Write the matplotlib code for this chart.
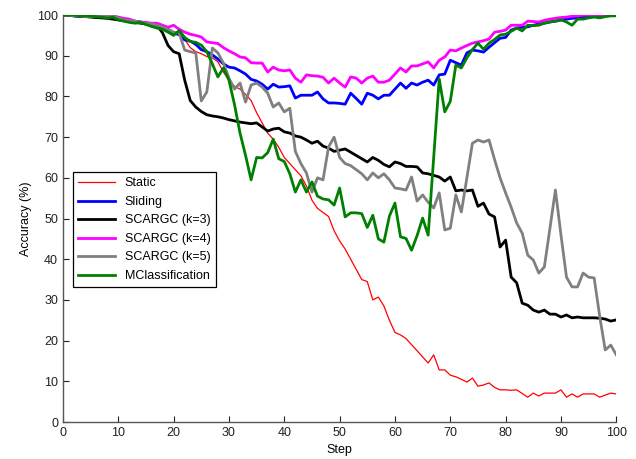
import matplotlib
matplotlib.use("Agg")
import matplotlib.pyplot as plt
import numpy as np

steps = list(range(0, 101))

static = [100,100,99.8,99.8,99.7,99.5,99.5,99.3,99.5,99,98.8,98.5,98.3,98.3,98,97.8,97.5,97.5,97,96.5,
          95.5,95,94,92,91,90.5,89.8,89.5,88.5,86,84,82.5,81.8,80.5,79,76,73.5,71,69.5,67.5,
          65,63.5,62,60.5,58,54.5,52.5,51.5,50.5,47,44.5,42.5,40,37.5,35,34.5,30,30.7,28.5,25,
          22,21.4,20.5,19,17.5,16,14.5,16.5,12.8,12.8,11.5,11.1,10.5,9.8,10.8,8.8,9.1,9.6,8.5,7.9,
          7.9,7.8,7.9,7,6.1,7.1,6.4,7.1,7.1,7.1,7.9,6.1,6.9,6.1,6.9,6.9,6.9,6.1,6.6,7.1,6.9]

sliding = [100,100,99.8,99.7,99.7,99.6,99.5,99.5,99.3,99.2,99,98.8,98.6,98.5,98.3,98,97.8,97.5,97,96.5,
           95.6,95.2,93.9,93.6,92.8,91.5,91,90.2,89.2,88,87.2,87,86.3,85.5,84.2,83.8,83,81.8,83,82.3,
           82.4,82.6,79.6,80.3,80.3,80.3,81.1,79.4,78.4,78.4,78.3,78.1,80.8,79.5,78.1,80.8,80.3,79.4,80.3,80.3,
           81.8,83.3,82,83.3,82.8,83.5,84,82.8,85.3,85.5,88.9,88.3,87.7,90.7,91.4,91.2,90.9,92.1,93.2,94.3,
           94.5,96.3,96.8,97,97.1,97.5,97.8,98,98.3,98.5,98.8,99,99.2,99.3,99.5,99.6,99.7,99.8,99.9,100,100]

scargc3 = [100,100,99.8,99.7,99.7,99.5,99.4,99.3,99.2,99,98.8,98.6,98.4,98.2,98,97.8,97.6,97.5,95.6,92.5,
           91,90.5,84,79,77.4,76.3,75.5,75.2,75,74.7,74.3,74,73.7,73.5,73.3,73.5,72.5,71.5,72,72.2,
           71.3,71,70.3,70,69.3,68.5,69,67.8,67.3,66.5,66.8,67.1,66.3,65.5,64.7,63.9,65,64.3,63.3,62.7,
           63.9,63.5,62.8,62.8,62.7,61.2,61,60.6,60.2,59.2,60.2,56.8,57,56.8,57,53,53.8,51.1,50.4,43,
           44.7,35.6,34.2,29.2,28.7,27.5,27,27.5,26.5,26.5,25.8,26.3,25.6,25.8,25.6,25.6,25.6,25.5,25.3,24.8,25.1]

scargc4 = [100,100,100,100,100,100,100,100,100,99.8,99.5,99.2,99,98.5,98.3,98.2,98,98,97.5,97,
           97.5,96.5,95.8,95.3,95,94.6,93.4,93.2,93,92,91.2,90.5,89.7,89.5,88.3,88.2,88.2,86,87.2,86.5,
           86.3,86.5,84.5,83.5,85.3,85.1,85,84.7,83.3,84.5,83.3,82.3,84.8,84.5,83.3,84.5,85,83.5,83.5,84,
           85.5,87,86,87.5,87.5,88,88.5,87,88.9,89.7,91.4,91.2,91.9,92.5,93.1,93.4,93.7,94.1,95.8,96,
           96.3,97.5,97.5,97.5,98.5,98.4,98.3,98.7,99,99.2,99.4,99.5,99.7,99.8,100,100,100,100,100,100,100]

scargc5 = [100,100,99.8,99.8,99.6,99.5,99.8,99.8,100,99.8,99.3,98.8,98.6,98.5,98.2,98,97.8,97.5,97,96.5,
           95.8,95.6,91.4,91,90.7,78.9,81.1,91.9,90.7,88.2,84.5,81.8,83.3,78.6,82.8,83.3,82.3,80.8,77.4,78.4,
           76.2,77.1,66.5,63.5,61.2,56.5,60,59.5,67.6,70,65,63.5,63,62,61,59.5,61.2,60,61,59.5,
           57.5,57.3,57,60.2,54.3,55.8,54,52.6,56.3,47.2,47.6,55.8,51.6,60,68.5,69.3,68.8,69.3,64.5,60,
           56.3,52.8,48.9,46.4,41,39.8,36.6,38.1,47.5,57,46,35.6,33.2,33.2,36.6,35.6,35.4,26,17.7,18.9,16.5]

mclass = [100,100,100,99.8,99.8,99.7,99.6,99.5,99.2,99.5,98.8,98.5,98.2,98,98.2,97.7,97.2,96.8,96.5,95.8,
          95,96.2,94.5,93.5,93.3,92.6,91,88,84.8,87,84,78,71,65.5,59.5,65,64.9,66.2,69.5,64.7,
          64,61,56.5,59.5,56.5,59,55.5,54.8,54.6,53.3,57.5,50.4,51.4,51.4,51.2,47.8,50.8,45,44.2,50.6,
          53.8,45.5,45.1,42.2,45.8,50.1,45.9,65,84.3,76.2,78.8,87.7,87,89.5,91.5,93.1,91.6,93.1,94,95.1,
          95.3,96,96.8,96.1,97.5,97.4,97.5,98,98.3,98.5,98.8,98.3,97.5,99,99,99.3,99.5,99.3,99.6,99.8,99.8]

series = [
    ("Static", static, "#ff0000", 0.9),
    ("Sliding", sliding, "#0000ff", 2.0),
    ("SCARGC (k=3)", scargc3, "#000000", 2.0),
    ("SCARGC (k=4)", scargc4, "#ff00ff", 2.0),
    ("SCARGC (k=5)", scargc5, "#808080", 2.0),
    ("MClassification", mclass, "#008000", 2.0),
]

FS = 9.0
plt.rcParams['font.family'] = ['Liberation Sans', 'DejaVu Sans']
plt.rcParams['font.size'] = FS

fig = plt.figure(figsize=(6.36, 4.59), dpi=100)
ax = fig.add_axes([0.099, 0.0806, 0.870, 0.8866])

for name, vals, col, lw in series:
    ax.plot(steps, vals, color=col, linewidth=lw, label=name)

ax.set_xlim(0, 100)
ax.set_ylim(0, 100)
ax.set_xticks(np.arange(0, 101, 10))
ax.set_yticks(np.arange(0, 101, 10))
ax.spines['top'].set_visible(False)
ax.spines['right'].set_visible(False)
for sp in ('left', 'bottom'):
    ax.spines[sp].set_color('#555555')
    ax.spines[sp].set_linewidth(1.0)
ax.tick_params(direction='in', length=4, width=0.8, colors='#222222', labelsize=FS)
ax.set_xlabel("Step", fontsize=FS, labelpad=4)
ax.set_ylabel("Accuracy (%)", fontsize=FS, labelpad=4)

leg = ax.legend(loc='lower left', bbox_to_anchor=(0.018, 0.332), fancybox=False,
                edgecolor='black', framealpha=1, handlelength=3.0, borderpad=0.4,
                labelspacing=0.52, handletextpad=0.75, fontsize=FS, borderaxespad=0)
leg.get_frame().set_linewidth(0.9)

fig.savefig("out.png", dpi=100)
